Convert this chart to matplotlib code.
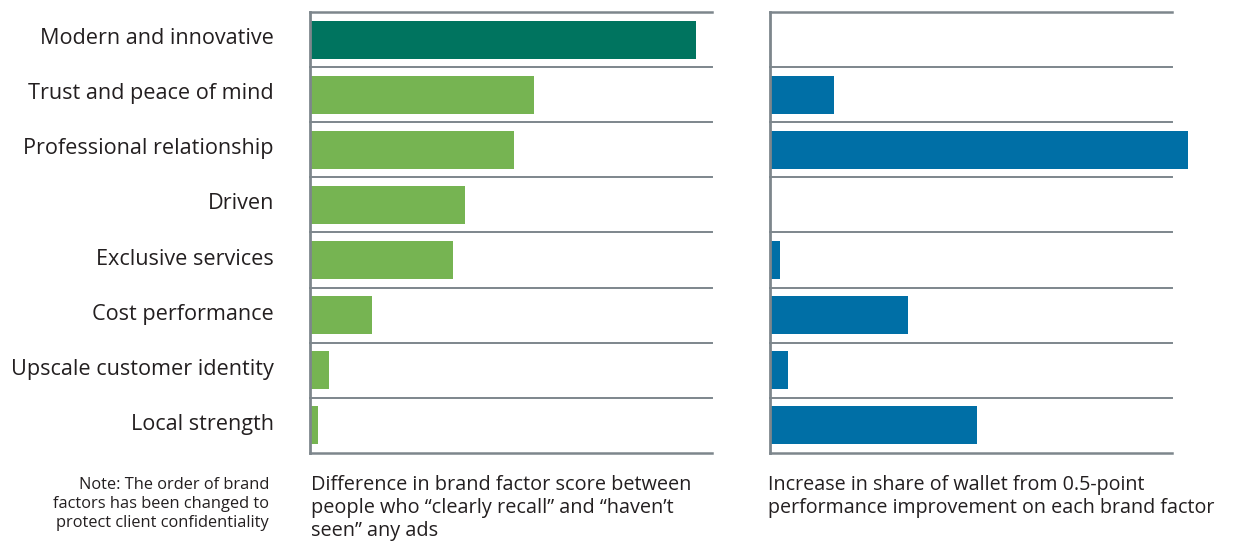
import matplotlib.pyplot as plt
from matplotlib.transforms import ScaledTranslation

# Brand factors, top to bottom
factors = [
    "Modern and innovative",
    "Trust and peace of mind",
    "Professional relationship",
    "Driven",
    "Exclusive services",
    "Cost performance",
    "Upscale customer identity",
    "Local strength",
]
# Difference in brand factor score (recall vs. not seen)
score_diff = [0.96, 0.557, 0.507, 0.386, 0.356, 0.154, 0.047, 0.02]
# Increase in share of wallet from a 0.5-point improvement
wallet_gain = [0.0, 0.16, 1.04, 0.0, 0.025, 0.343, 0.045, 0.515]

left_colors = ["#00745f"] + ["#76b452"] * 7
right_color = "#006fa6"
line_color = "#7d868c"

plt.rcParams["font.family"] = ["Open Sans", "DejaVu Sans"]
text_color = "#231f20"

fig = plt.figure(figsize=(12.35, 5.41), dpi=100)
ax1 = fig.add_axes([0.2510, 0.1627, 0.3255, 0.8151])
ax2 = fig.add_axes([0.6235, 0.1627, 0.3255, 0.8151])

n = len(factors)
ypos = list(range(n))


def style_panel(ax):
    ax.set_xlim(0, 1)
    ax.set_ylim(n - 0.5, -0.5)
    for k in range(n + 1):
        ax.axhline(k - 0.5, color=line_color, lw=1.4 if 0 < k < n else 1.8,
                   zorder=1, clip_on=False)
    for s in ["top", "right", "bottom"]:
        ax.spines[s].set_visible(False)
    ax.spines["left"].set_color(line_color)
    ax.spines["left"].set_linewidth(2)
    ax.set_xticks([])
    ax.tick_params(axis="y", length=0)


ax1.barh(ypos, score_diff, height=0.69, color=left_colors, zorder=2)
style_panel(ax1)
ax1.set_yticks(ypos)
ax1.set_yticklabels(factors, fontsize=15.6, color=text_color)
ax1.tick_params(axis="y", pad=26)
# nudge the factor names up a little
shift = ScaledTranslation(0, 2.5 / 72, fig.dpi_scale_trans)
for lbl in ax1.get_yticklabels():
    lbl.set_transform(lbl.get_transform() + shift)

ax2.barh(ypos, wallet_gain, height=0.69, color=right_color, zorder=2,
         clip_on=False)
style_panel(ax2)
ax2.set_yticks([])

# Captions under each panel
fig.text(0.2518, 0.122,
         "Difference in brand factor score between\n"
         "people who \u201cclearly recall\u201d and \u201chaven\u2019t\n"
         "seen\u201d any ads",
         ha="left", va="top", fontsize=14.3, color=text_color, linespacing=1.2)
fig.text(0.6215, 0.122,
         "Increase in share of wallet from 0.5-point\n"
         "performance improvement on each brand factor",
         ha="left", va="top", fontsize=14.2, color=text_color, linespacing=1.2)
fig.text(0.2178, 0.119,
         "Note: The order of brand\n"
         "factors has been changed to\n"
         "protect client confidentiality",
         ha="right", va="top", fontsize=11.8, color=text_color,
         linespacing=1.25)

fig.savefig("out.png", dpi=100)
